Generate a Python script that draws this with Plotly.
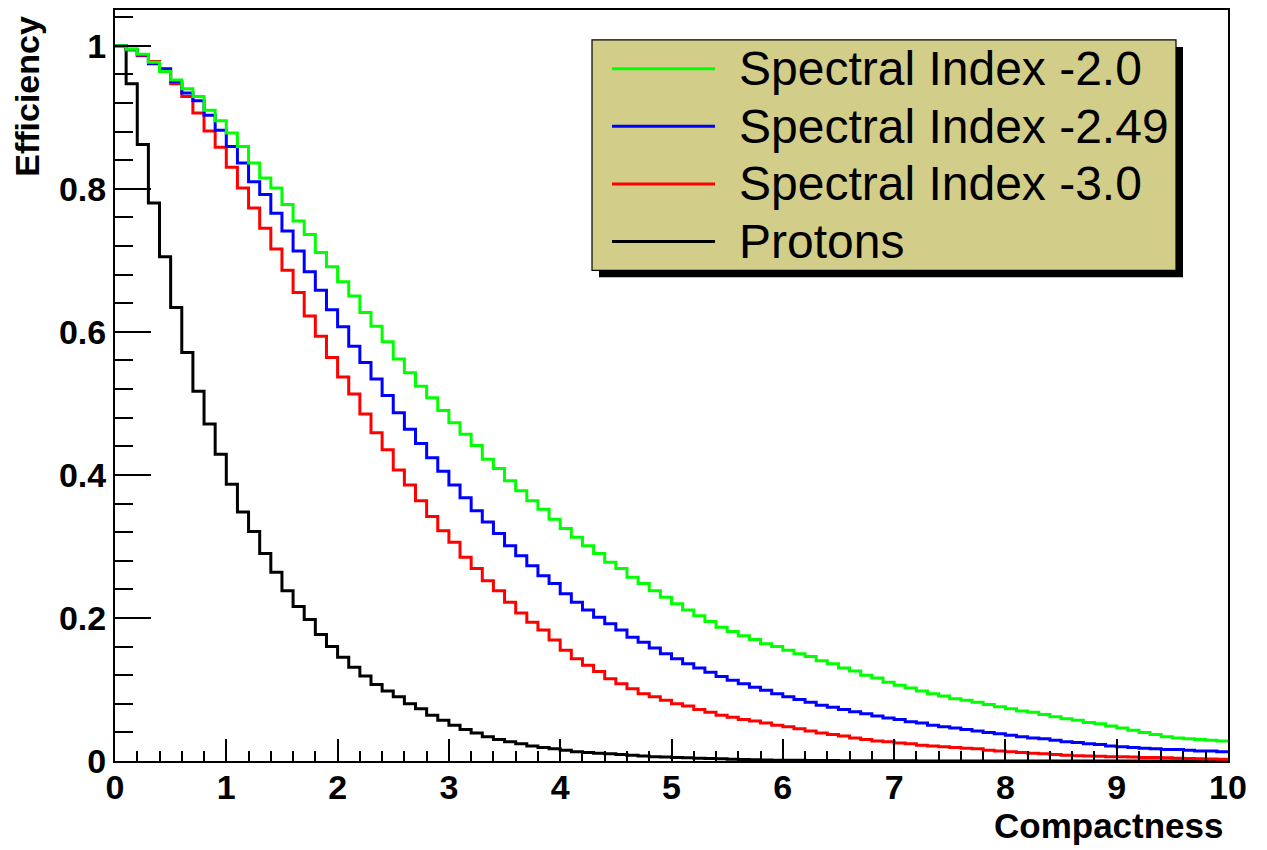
import numpy as np
import plotly.graph_objects as go

# ---------------- data (100 bins of width 0.1 over Compactness 0..10) ----------------
bin_edges = np.linspace(0.0, 10.0, 101)

spec_2_0 = [1.000, 0.995, 0.988, 0.977, 0.964, 0.952, 0.940, 0.929, 0.910, 0.895,
            0.878, 0.859, 0.836, 0.815, 0.801, 0.778, 0.755, 0.736, 0.711, 0.691,
            0.670, 0.650, 0.627, 0.608, 0.586, 0.562, 0.543, 0.524, 0.508, 0.490,
            0.473, 0.457, 0.441, 0.422, 0.409, 0.392, 0.378, 0.364, 0.352, 0.338,
            0.325, 0.313, 0.301, 0.290, 0.278, 0.269, 0.257, 0.248, 0.238, 0.229,
            0.220, 0.211, 0.203, 0.195, 0.187, 0.181, 0.175, 0.170, 0.164, 0.160,
            0.155, 0.150, 0.146, 0.140, 0.136, 0.130, 0.126, 0.120, 0.116, 0.110,
            0.106, 0.102, 0.098, 0.094, 0.091, 0.087, 0.085, 0.082, 0.079, 0.076,
            0.073, 0.070, 0.068, 0.065, 0.062, 0.059, 0.057, 0.054, 0.052, 0.049,
            0.046, 0.043, 0.040, 0.037, 0.034, 0.032, 0.031, 0.030, 0.029, 0.028]

spec_2_49 = [1.000, 0.995, 0.987, 0.975, 0.968, 0.950, 0.934, 0.923, 0.903, 0.882,
             0.859, 0.836, 0.810, 0.792, 0.766, 0.741, 0.713, 0.684, 0.658, 0.631,
             0.607, 0.580, 0.557, 0.534, 0.511, 0.487, 0.464, 0.444, 0.424, 0.405,
             0.386, 0.368, 0.350, 0.334, 0.318, 0.301, 0.287, 0.273, 0.259, 0.248,
             0.234, 0.222, 0.211, 0.201, 0.192, 0.183, 0.173, 0.166, 0.158, 0.150,
             0.143, 0.136, 0.130, 0.124, 0.118, 0.113, 0.108, 0.103, 0.099, 0.094,
             0.090, 0.086, 0.082, 0.078, 0.075, 0.072, 0.069, 0.066, 0.063, 0.060,
             0.058, 0.055, 0.053, 0.050, 0.048, 0.046, 0.044, 0.042, 0.040, 0.038,
             0.036, 0.034, 0.032, 0.031, 0.029, 0.027, 0.026, 0.024, 0.023, 0.021,
             0.020, 0.019, 0.018, 0.017, 0.016, 0.016, 0.015, 0.014, 0.014, 0.013]

spec_3_0 = [1.000, 0.994, 0.986, 0.978, 0.964, 0.947, 0.929, 0.906, 0.881, 0.858,
            0.830, 0.801, 0.773, 0.745, 0.716, 0.686, 0.655, 0.622, 0.594, 0.564,
            0.537, 0.513, 0.485, 0.459, 0.435, 0.407, 0.386, 0.364, 0.342, 0.322,
            0.306, 0.285, 0.269, 0.252, 0.238, 0.222, 0.207, 0.194, 0.183, 0.169,
            0.155, 0.143, 0.134, 0.125, 0.115, 0.108, 0.101, 0.094, 0.090, 0.085,
            0.080, 0.077, 0.072, 0.068, 0.064, 0.061, 0.058, 0.056, 0.053, 0.050,
            0.048, 0.045, 0.042, 0.039, 0.037, 0.035, 0.032, 0.030, 0.028, 0.027,
            0.025, 0.024, 0.022, 0.021, 0.020, 0.019, 0.018, 0.017, 0.015, 0.014,
            0.013, 0.012, 0.011, 0.010, 0.009, 0.008, 0.0075, 0.007, 0.0065, 0.006,
            0.006, 0.0055, 0.005, 0.0048, 0.0045, 0.004, 0.0035, 0.003, 0.0027, 0.0023]

protons = [1.000, 0.947, 0.862, 0.780, 0.705, 0.634, 0.571, 0.517, 0.471, 0.429,
           0.387, 0.348, 0.321, 0.290, 0.264, 0.238, 0.216, 0.198, 0.177, 0.160,
           0.145, 0.131, 0.119, 0.107, 0.098, 0.090, 0.080, 0.073, 0.064, 0.057,
           0.050, 0.044, 0.039, 0.034, 0.030, 0.027, 0.024, 0.021, 0.019, 0.017,
           0.015, 0.013, 0.012, 0.011, 0.010, 0.009, 0.008, 0.007, 0.006, 0.0055,
           0.005, 0.0045, 0.004, 0.0035, 0.003, 0.0025, 0.002, 0.0018, 0.0015, 0.0012,
           0.001, 0.0009, 0.0008, 0.0007, 0.0006, 0.0005, 0.0004, 0.0003, 0.0003, 0.0002,
           0.0002, 0.0002, 0.0001, 0.0001, 0.0001, 0.0001, 0.0, 0.0, 0.0, 0.0,
           0.0, 0.0, 0.0, 0.0, 0.0, 0.0, 0.0, 0.0, 0.0, 0.0,
           0.0, 0.0, 0.0, 0.0, 0.0, 0.0, 0.0, 0.0, 0.0, 0.0]

series_names = ["Spectral Index -2.0", "Spectral Index -2.49", "Spectral Index -3.0", "Protons"]
series_values = [spec_2_0, spec_2_49, spec_3_0, protons]
series_colors = ["#00ff00", "#0000ff", "#ff0000", "#000000"]

x_ticks = list(range(0, 11))
y_ticks = [0, 0.2, 0.4, 0.6, 0.8, 1.0]

# ---------------- layout geometry ----------------
# The page body adds an 8 px offset; figure is sized so that the plot frame
# lands at page x 115..1228, y 8..761.
OFF = 8
PL, PR, PT, PB = 115, 1228, 8, 761          # plot frame in page pixels
W, H = 1267 - OFF, 850 - OFF
ML, MT = PL - OFF, PT - OFF
MR, MB = W - (PR - OFF), H - (PB - OFF)
PW, PH = PR - PL, PB - PT

FONT = "Liberation Sans, Arial, Helvetica, sans-serif"

fig = go.Figure()

# draw order: protons first, green last (on top)
for idx in [3, 2, 1, 0]:
    vals = series_values[idx]
    fig.add_trace(go.Scatter(
        x=bin_edges,
        y=list(vals) + [vals[-1]],
        mode="lines",
        line=dict(color=series_colors[idx], width=3, shape="hv"),
        name=series_names[idx],
        showlegend=False,
        hoverinfo="x+y+name",
    ))


def px_x(p):
    return (p - PL) / PW


def px_y(p):
    return (PB - p) / PH


shapes = []
annotations = []

# legend (ROOT TLegend style with shadow)
box_l, box_t, box_r, box_b = 592, 38, 1176, 269
shadow = 7
shapes.append(dict(type="rect", xref="paper", yref="paper",
                   x0=px_x(box_l + shadow), x1=px_x(box_r + shadow),
                   y0=px_y(box_t + shadow), y1=px_y(box_b + shadow),
                   fillcolor="#000000", line=dict(width=0), layer="above"))
shapes.append(dict(type="rect", xref="paper", yref="paper",
                   x0=px_x(box_l), x1=px_x(box_r),
                   y0=px_y(box_t), y1=px_y(box_b),
                   fillcolor="#d2cd89", line=dict(color="#000000", width=1.2), layer="above"))
row_h = (box_b - box_t) / len(series_names)
for i, (name, col) in enumerate(zip(series_names, series_colors)):
    yc = box_t + row_h * (i + 0.5)
    shapes.append(dict(type="line", xref="paper", yref="paper",
                       x0=px_x(612), x1=px_x(715), y0=px_y(yc), y1=px_y(yc),
                       line=dict(color=col, width=3), layer="above"))
    annotations.append(dict(text=name, xref="paper", yref="paper",
                            x=px_x(737), y=px_y(yc), xanchor="left", yanchor="middle",
                            showarrow=False,
                            font=dict(family=FONT, size=48, color="#000000")))

# axis titles (ROOT-style: placed at the axis ends)
annotations.append(dict(text="<b>Compactness</b>", xref="paper", yref="paper",
                        x=px_x(1226), y=px_y(826), xanchor="right", yanchor="middle",
                        showarrow=False, font=dict(family=FONT, size=35, color="#000000")))
annotations.append(dict(text="<b>Efficiency</b>", xref="paper", yref="paper",
                        x=px_x(27), y=px_y(95), xanchor="center", yanchor="middle",
                        textangle=-90, showarrow=False,
                        font=dict(family=FONT, size=34, color="#000000")))

fig.update_layout(
    width=W, height=H,
    margin=dict(l=ML, r=MR, t=MT, b=MB, pad=0),
    paper_bgcolor="#ffffff", plot_bgcolor="#ffffff",
    showlegend=False,
    shapes=shapes, annotations=annotations,
)

fig.update_xaxes(
    range=[0, 10], tickvals=x_ticks, ticktext=[str(v) for v in x_ticks],
    ticks="inside", ticklen=22, tickwidth=1.5, tickcolor="#000000",
    minor=dict(dtick=0.2, ticks="inside", ticklen=10, tickwidth=1.5, tickcolor="#000000", showgrid=False),
    showgrid=False, zeroline=False,
    showline=True, linecolor="#000000", linewidth=2, mirror=True,
    tickfont=dict(family=FONT, size=34, color="#000000", weight="bold"),
    ticklabelstandoff=-5,
)
fig.update_yaxes(
    range=[0, 1.05], tickvals=y_ticks, ticktext=["0", "0.2", "0.4", "0.6", "0.8", "1"],
    ticks="inside", ticklen=36, tickwidth=1.5, tickcolor="#000000",
    minor=dict(dtick=0.04, tick0=0, ticks="inside", ticklen=18, tickwidth=1.5, tickcolor="#000000", showgrid=False),
    showgrid=False, zeroline=False,
    showline=True, linecolor="#000000", linewidth=2, mirror=True,
    tickfont=dict(family=FONT, size=34, color="#000000", weight="bold"),
    ticklabelstandoff=0,
)

fig.write_html("out.html")
